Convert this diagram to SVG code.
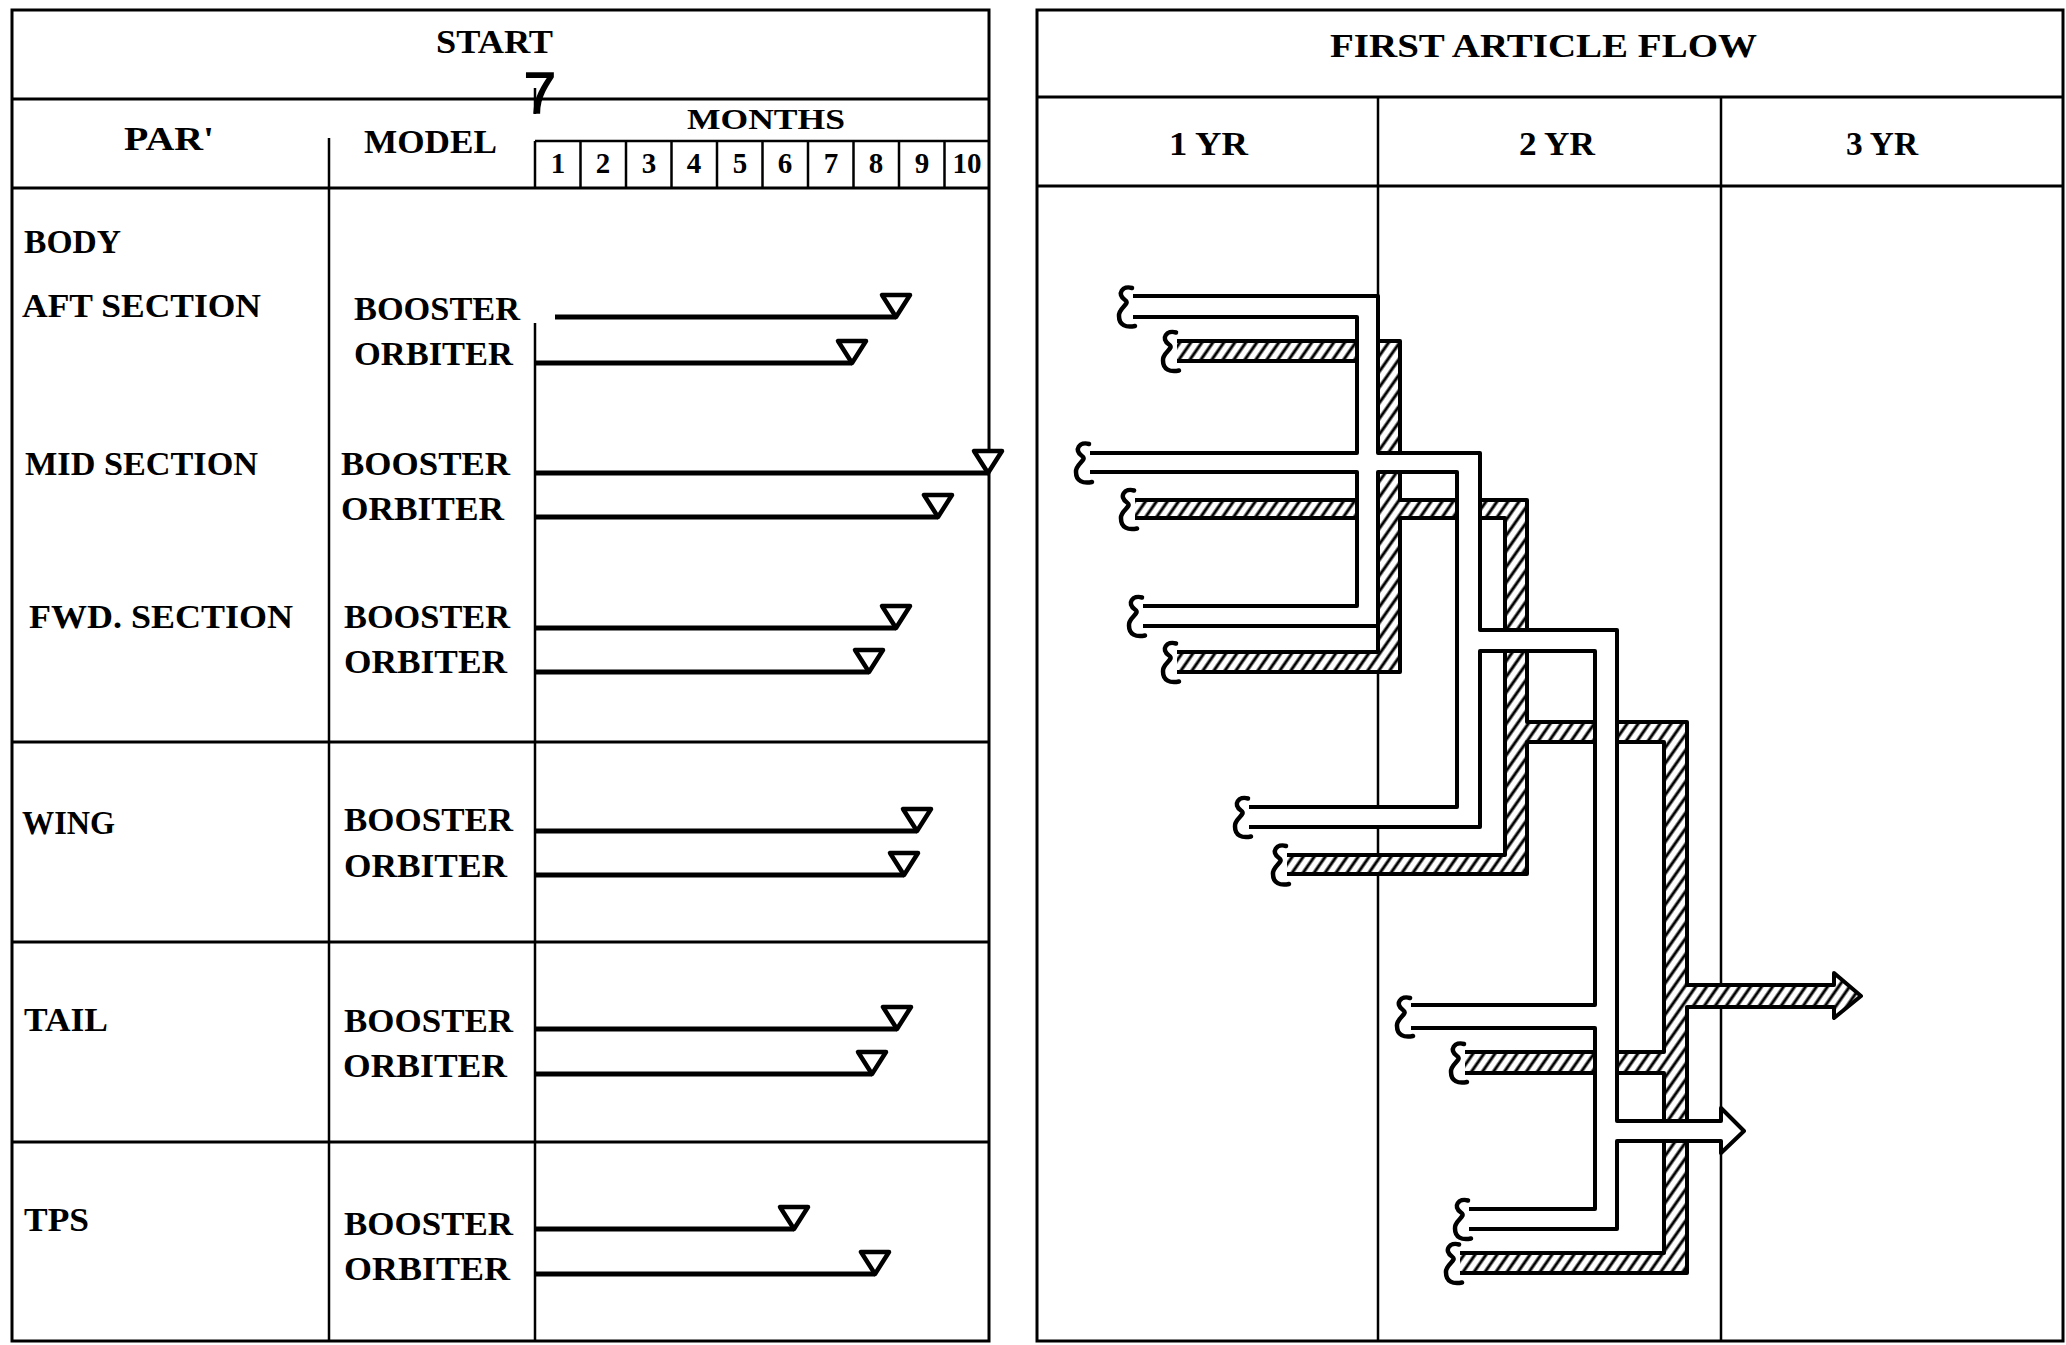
<svg xmlns="http://www.w3.org/2000/svg" xmlns:xlink="http://www.w3.org/1999/xlink" width="2066" height="1345" viewBox="0 0 2066 1345">
<style>
.t{font-family:"Liberation Serif",serif;font-size:34px;font-weight:bold;fill:#000}
.n{font-family:"Liberation Serif",serif;font-size:29px;font-weight:bold;fill:#000;text-anchor:middle}
.grid{stroke:#000;stroke-width:3;fill:none}
.thin{stroke:#000;stroke-width:2.5;fill:none}
.bar{stroke:#000;stroke-width:5;fill:none}
.tri{fill:#fff;stroke:#000;stroke-width:4.5;stroke-linejoin:round}
.wfill{fill:#fff;stroke:none}
.hfill{fill:url(#hatch);stroke:none}
.wall{fill:none;stroke:#000;stroke-width:4;stroke-linejoin:round}
.sq{fill:none;stroke:#000;stroke-width:4.5;stroke-linecap:round}
</style>
<defs>
<pattern id="hatch" patternUnits="userSpaceOnUse" width="9" height="9" patternTransform="rotate(35)">
<rect width="9" height="9" fill="#fff"/>
<line x1="2" y1="0" x2="2" y2="9" stroke="#000" stroke-width="3"/>
</pattern>
<path id="tri" d="M-14,-22 L14,-22 L0,0 Z"/>
<path id="sq" d="M-1,-8 C-10,-11 -17,-2 -8,4 C-2,8 -15,12 -14,20 C-14,29 -7,32 2,30"/>
</defs>
<rect width="2066" height="1345" fill="#fff"/>

<g id="schedule-table">
<rect class="grid" x="12" y="10" width="977" height="1331"/>
<line class="grid" x1="12" y1="99" x2="989" y2="99"/>
<line class="grid" x1="12" y1="188" x2="989" y2="188"/>
<line class="grid" x1="12" y1="742" x2="989" y2="742"/>
<line class="grid" x1="12" y1="942" x2="989" y2="942"/>
<line class="grid" x1="12" y1="1142" x2="989" y2="1142"/>
<line class="thin" x1="329" y1="138" x2="329" y2="1341"/>
<line class="thin" x1="535" y1="323" x2="535" y2="1341"/>
<line class="thin" x1="535" y1="88" x2="535" y2="114"/>
<text class="t" x="436" y="53" textLength="117" lengthAdjust="spacingAndGlyphs">START</text>
<text x="540" y="113" style="font-family:'Liberation Sans',sans-serif;font-size:58px;text-anchor:middle;stroke:#000;stroke-width:1.5">7</text>
<text class="t" x="124" y="150" textLength="90" lengthAdjust="spacingAndGlyphs">PAR'</text>
<text class="t" x="364" y="153" textLength="133" lengthAdjust="spacingAndGlyphs">MODEL</text>
<text class="t" x="687" y="129" style="font-size:30px" textLength="158" lengthAdjust="spacingAndGlyphs">MONTHS</text>
<g id="month-boxes">
<line class="thin" x1="535" y1="141" x2="989" y2="141"/>
<path class="thin" d="M535,141V188 M580.5,141V188 M626,141V188 M671.5,141V188 M717,141V188 M762.5,141V188 M808,141V188 M853.5,141V188 M899,141V188 M944.5,141V188"/>
<text class="n" x="558" y="173">1</text>
<text class="n" x="603" y="173">2</text>
<text class="n" x="649" y="173">3</text>
<text class="n" x="694" y="173">4</text>
<text class="n" x="740" y="173">5</text>
<text class="n" x="785" y="173">6</text>
<text class="n" x="831" y="173">7</text>
<text class="n" x="876" y="173">8</text>
<text class="n" x="922" y="173">9</text>
<text class="n" x="967" y="173">10</text>
</g>
</g>

<g id="row-body">
<text class="t" x="24" y="253" textLength="97" lengthAdjust="spacingAndGlyphs">BODY</text>
</g>
<g id="row-aft">
<text class="t" x="22" y="317" textLength="239" lengthAdjust="spacingAndGlyphs">AFT SECTION</text>
<text class="t" x="354" y="320" textLength="166" lengthAdjust="spacingAndGlyphs">BOOSTER</text>
<text class="t" x="354" y="365" textLength="159" lengthAdjust="spacingAndGlyphs">ORBITER</text>
<line class="bar" x1="555" y1="317" x2="896" y2="317"/><use href="#tri" class="tri" x="896" y="317"/>
<line class="bar" x1="535" y1="363" x2="852" y2="363"/><use href="#tri" class="tri" x="852" y="363"/>
</g>
<g id="row-mid">
<text class="t" x="25" y="475" textLength="233" lengthAdjust="spacingAndGlyphs">MID SECTION</text>
<text class="t" x="341" y="475" textLength="169" lengthAdjust="spacingAndGlyphs">BOOSTER</text>
<text class="t" x="341" y="520" textLength="163" lengthAdjust="spacingAndGlyphs">ORBITER</text>
<line class="bar" x1="535" y1="473" x2="988" y2="473"/><use href="#tri" class="tri" x="988" y="473"/>
<line class="bar" x1="535" y1="517" x2="938" y2="517"/><use href="#tri" class="tri" x="938" y="517"/>
</g>
<g id="row-fwd">
<text class="t" x="29" y="628" textLength="264" lengthAdjust="spacingAndGlyphs">FWD. SECTION</text>
<text class="t" x="344" y="628" textLength="166" lengthAdjust="spacingAndGlyphs">BOOSTER</text>
<text class="t" x="344" y="673" textLength="163" lengthAdjust="spacingAndGlyphs">ORBITER</text>
<line class="bar" x1="535" y1="628" x2="896" y2="628"/><use href="#tri" class="tri" x="896" y="628"/>
<line class="bar" x1="535" y1="672" x2="869" y2="672"/><use href="#tri" class="tri" x="869" y="672"/>
</g>
<g id="row-wing">
<text class="t" x="22" y="834" textLength="93" lengthAdjust="spacingAndGlyphs">WING</text>
<text class="t" x="344" y="831" textLength="169" lengthAdjust="spacingAndGlyphs">BOOSTER</text>
<text class="t" x="344" y="877" textLength="163" lengthAdjust="spacingAndGlyphs">ORBITER</text>
<line class="bar" x1="535" y1="831" x2="917" y2="831"/><use href="#tri" class="tri" x="917" y="831"/>
<line class="bar" x1="535" y1="875" x2="904" y2="875"/><use href="#tri" class="tri" x="904" y="875"/>
</g>
<g id="row-tail">
<text class="t" x="24" y="1031" textLength="84" lengthAdjust="spacingAndGlyphs">TAIL</text>
<text class="t" x="344" y="1032" textLength="169" lengthAdjust="spacingAndGlyphs">BOOSTER</text>
<text class="t" x="343" y="1077" textLength="164" lengthAdjust="spacingAndGlyphs">ORBITER</text>
<line class="bar" x1="535" y1="1029" x2="897" y2="1029"/><use href="#tri" class="tri" x="897" y="1029"/>
<line class="bar" x1="535" y1="1074" x2="872" y2="1074"/><use href="#tri" class="tri" x="872" y="1074"/>
</g>
<g id="row-tps">
<text class="t" x="24" y="1231" textLength="65" lengthAdjust="spacingAndGlyphs">TPS</text>
<text class="t" x="344" y="1235" textLength="169" lengthAdjust="spacingAndGlyphs">BOOSTER</text>
<text class="t" x="344" y="1280" textLength="166" lengthAdjust="spacingAndGlyphs">ORBITER</text>
<line class="bar" x1="535" y1="1229" x2="794" y2="1229"/><use href="#tri" class="tri" x="794" y="1229"/>
<line class="bar" x1="535" y1="1274" x2="875" y2="1274"/><use href="#tri" class="tri" x="875" y="1274"/>
</g>

<g id="flow-table">
<rect class="grid" x="1037" y="10" width="1026" height="1331"/>
<line class="grid" x1="1037" y1="97" x2="2063" y2="97"/>
<line class="grid" x1="1037" y1="186" x2="2063" y2="186"/>
<line class="thin" x1="1378" y1="97" x2="1378" y2="1341"/>
<line class="thin" x1="1721" y1="97" x2="1721" y2="1341"/>
<text class="t" x="1330" y="57" textLength="427" lengthAdjust="spacingAndGlyphs">FIRST ARTICLE FLOW</text>
<text class="t" x="1169" y="155" textLength="79" lengthAdjust="spacingAndGlyphs">1 YR</text>
<text class="t" x="1519" y="155" textLength="76" lengthAdjust="spacingAndGlyphs">2 YR</text>
<text class="t" x="1846" y="155" textLength="72" lengthAdjust="spacingAndGlyphs">3 YR</text>
</g>

<g id="connectors">
<g id="orbiter-flow">
<path class="hfill" d="M1177,341 L1400,341 L1400,500 L1527,500 L1527,722 L1687,722 L1687,985 L1834,985 L1834,973 L1861,996 L1834,1018 L1834,1007 L1687,1007 L1687,1273 L1460,1273 L1460,1253 L1664,1253 L1664,1073 L1465,1073 L1465,1052 L1664,1052 L1664,742 L1527,742 L1527,874 L1287,874 L1287,855 L1505,855 L1505,518 L1400,518 L1400,672 L1177,672 L1177,652 L1378,652 L1378,518 L1135,518 L1135,500 L1378,500 L1378,361 L1177,361 Z"/>
<path class="wall" d="M1177,341 L1400,341 L1400,500 L1527,500 L1527,722 L1687,722 L1687,985 L1834,985 L1834,973 L1861,996 L1834,1018 L1834,1007 L1687,1007 L1687,1273 L1460,1273 M1460,1253 L1664,1253 L1664,1073 L1465,1073 M1465,1052 L1664,1052 L1664,742 L1527,742 L1527,874 L1287,874 M1287,855 L1505,855 L1505,518 L1400,518 L1400,672 L1177,672 M1177,652 L1378,652 L1378,518 L1135,518 M1135,500 L1378,500 L1378,361 L1177,361"/>
<use href="#sq" class="sq" x="1177" y="340.5"/>
<use href="#sq" class="sq" x="1135" y="498.5"/>
<use href="#sq" class="sq" x="1177" y="651.5"/>
<use href="#sq" class="sq" x="1287" y="854"/>
<use href="#sq" class="sq" x="1465" y="1052"/>
<use href="#sq" class="sq" x="1460" y="1252.5"/>
</g>
<g id="booster-flow">
<path class="wfill" d="M1133,296 L1378,296 L1378,453 L1480,453 L1480,630 L1617,630 L1617,1121 L1721,1121 L1721,1108 L1744,1131 L1721,1153 L1721,1141 L1617,1141 L1617,1229 L1469,1229 L1469,1209 L1595,1209 L1595,1028 L1411,1028 L1411,1005 L1595,1005 L1595,651 L1480,651 L1480,827 L1249,827 L1249,807 L1457,807 L1457,472 L1378,472 L1378,626 L1143,626 L1143,606 L1357,606 L1357,472 L1090,472 L1090,453 L1357,453 L1357,317 L1133,317 Z"/>
<path class="wall" d="M1133,296 L1378,296 L1378,453 L1480,453 L1480,630 L1617,630 L1617,1121 L1721,1121 L1721,1108 L1744,1131 L1721,1153 L1721,1141 L1617,1141 L1617,1229 L1469,1229 M1469,1209 L1595,1209 L1595,1028 L1411,1028 M1411,1005 L1595,1005 L1595,651 L1480,651 L1480,827 L1249,827 M1249,807 L1457,807 L1457,472 L1378,472 L1378,626 L1143,626 M1143,606 L1357,606 L1357,472 L1090,472 M1090,453 L1357,453 L1357,317 L1133,317"/>
<use href="#sq" class="sq" x="1133" y="296"/>
<use href="#sq" class="sq" x="1090" y="452"/>
<use href="#sq" class="sq" x="1143" y="605.5"/>
<use href="#sq" class="sq" x="1249" y="806.5"/>
<use href="#sq" class="sq" x="1411" y="1006"/>
<use href="#sq" class="sq" x="1469" y="1208.5"/>
</g>
</g>
</svg>
